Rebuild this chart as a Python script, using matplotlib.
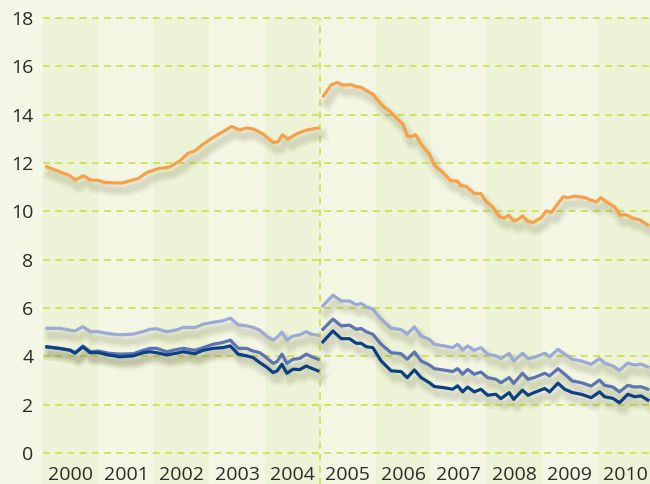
import matplotlib
matplotlib.use("Agg")
import matplotlib.pyplot as plt
import matplotlib.patheffects as pe

# years shown on the x axis
years = list(range(2000, 2011))

# blue series, before the 2005 break (x in years)
blue_x_pre = [2000.07, 2000.31, 2000.49, 2000.58, 2000.72, 2000.85, 2001.00, 2001.18, 2001.39,
              2001.63, 2001.81, 2001.93, 2002.05, 2002.23, 2002.41, 2002.53, 2002.74, 2002.89,
              2003.07, 2003.24, 2003.38, 2003.52, 2003.67, 2003.79, 2003.91, 2004.03, 2004.15,
              2004.22, 2004.31, 2004.40, 2004.51, 2004.63, 2004.75, 2004.84, 2004.96]
light_pre = [5.16, 5.16, 5.08, 5.05, 5.23, 5.02, 5.02, 4.94, 4.89, 4.92, 5.03, 5.12, 5.14, 5.02,
             5.09, 5.20, 5.19, 5.33, 5.41, 5.47, 5.58, 5.30, 5.26, 5.20, 5.08, 4.84, 4.67, 4.78,
             5.00, 4.68, 4.84, 4.89, 5.02, 4.92, 4.87]
mid_pre = [4.40, 4.33, 4.26, 4.15, 4.43, 4.19, 4.22, 4.13, 4.09, 4.11, 4.25, 4.33, 4.33, 4.19,
           4.28, 4.33, 4.25, 4.36, 4.50, 4.57, 4.67, 4.33, 4.33, 4.22, 4.15, 3.95, 3.71, 3.78,
           4.09, 3.71, 3.88, 3.91, 4.09, 3.99, 3.88]
dark_pre = [4.39, 4.32, 4.25, 4.13, 4.39, 4.15, 4.15, 4.06, 3.98, 4.02, 4.15, 4.19, 4.15, 4.06,
            4.13, 4.19, 4.11, 4.25, 4.33, 4.36, 4.43, 4.09, 4.02, 3.95, 3.74, 3.56, 3.33, 3.39,
            3.67, 3.30, 3.47, 3.45, 3.60, 3.51, 3.40]

# blue series, after the break
blue_x_post = [2005.05, 2005.23, 2005.38, 2005.53, 2005.65, 2005.74, 2005.83, 2005.95, 2006.10,
               2006.28, 2006.46, 2006.57, 2006.70, 2006.82, 2006.97, 2007.06, 2007.24, 2007.39,
               2007.48, 2007.57, 2007.66, 2007.78, 2007.90, 2008.02, 2008.17, 2008.26, 2008.41,
               2008.49, 2008.65, 2008.75, 2008.86, 2009.05, 2009.14, 2009.29, 2009.41, 2009.55,
               2009.71, 2009.89, 2010.04, 2010.13, 2010.28, 2010.40, 2010.55, 2010.67, 2010.79,
               2010.91]
light_post = [6.09, 6.53, 6.29, 6.29, 6.13, 6.19, 6.05, 5.95, 5.54, 5.16, 5.11, 4.92, 5.22, 4.84,
              4.70, 4.50, 4.43, 4.36, 4.50, 4.26, 4.43, 4.25, 4.36, 4.09, 4.02, 3.91, 4.12, 3.81,
              4.13, 3.91, 3.95, 4.13, 3.98, 4.29, 4.09, 3.88, 3.81, 3.67, 3.91, 3.72, 3.60, 3.42,
              3.72, 3.64, 3.68, 3.56]
mid_post = [5.12, 5.54, 5.26, 5.29, 5.12, 5.15, 5.02, 4.91, 4.50, 4.15, 4.11, 3.88, 4.18, 3.81,
            3.64, 3.49, 3.43, 3.37, 3.49, 3.26, 3.46, 3.26, 3.35, 3.12, 3.05, 2.91, 3.12, 2.88,
            3.30, 3.05, 3.12, 3.30, 3.19, 3.49, 3.26, 2.98, 2.91, 2.77, 3.02, 2.80, 2.73, 2.53,
            2.80, 2.73, 2.74, 2.64]
dark_post = [4.60, 5.05, 4.73, 4.73, 4.54, 4.54, 4.40, 4.36, 3.81, 3.40, 3.37, 3.12, 3.44, 3.12,
             2.91, 2.75, 2.70, 2.64, 2.78, 2.53, 2.73, 2.53, 2.64, 2.39, 2.43, 2.25, 2.50, 2.22,
             2.60, 2.39, 2.50, 2.67, 2.53, 2.89, 2.64, 2.50, 2.43, 2.29, 2.53, 2.33, 2.26, 2.08,
             2.43, 2.33, 2.36, 2.19]

# orange series
orange_x_pre = [2000.07, 2000.49, 2000.58, 2000.73, 2000.85, 2001.00, 2001.12, 2001.42, 2001.72,
                2001.87, 2002.05, 2002.29, 2002.47, 2002.62, 2002.74, 2002.89, 2003.07, 2003.25,
                2003.40, 2003.55, 2003.67, 2003.79, 2003.97, 2004.15, 2004.24, 2004.32, 2004.42,
                2004.57, 2004.75, 2004.96]
orange_pre = [11.84, 11.47, 11.30, 11.47, 11.30, 11.28, 11.19, 11.17, 11.36, 11.60, 11.75, 11.84,
              12.09, 12.41, 12.50, 12.78, 13.06, 13.30, 13.51, 13.37, 13.45, 13.41, 13.20, 12.85,
              12.88, 13.17, 12.99, 13.20, 13.36, 13.45]
orange_x_post = [2005.06, 2005.20, 2005.31, 2005.41, 2005.56, 2005.65, 2005.74, 2005.86, 2005.95,
                 2006.07, 2006.16, 2006.25, 2006.37, 2006.49, 2006.57, 2006.64, 2006.72, 2006.82,
                 2006.97, 2007.06, 2007.18, 2007.36, 2007.47, 2007.54, 2007.63, 2007.78, 2007.90,
                 2007.99, 2008.11, 2008.23, 2008.32, 2008.40, 2008.49, 2008.56, 2008.65, 2008.75,
                 2008.84, 2008.99, 2009.08, 2009.17, 2009.26, 2009.38, 2009.47, 2009.59, 2009.77,
                 2009.89, 2009.98, 2010.07, 2010.16, 2010.31, 2010.41, 2010.52, 2010.64, 2010.76,
                 2010.91]
orange_post = [14.78, 15.24, 15.33, 15.22, 15.24, 15.16, 15.13, 14.96, 14.85, 14.51, 14.30, 14.16,
               13.88, 13.61, 13.13, 13.09, 13.17, 12.78, 12.37, 11.91, 11.68, 11.26, 11.26, 11.06,
               11.04, 10.74, 10.74, 10.41, 10.19, 9.79, 9.72, 9.84, 9.61, 9.65, 9.81, 9.58, 9.54,
               9.74, 10.02, 9.95, 10.23, 10.60, 10.57, 10.63, 10.57, 10.46, 10.39, 10.57, 10.39,
               10.19, 9.84, 9.86, 9.72, 9.65, 9.43]

break_year = 2005
yticks = list(range(0, 20, 2))

plt.rcParams['font.family'] = ['Open Sans', 'DejaVu Sans']

fig = plt.figure(figsize=(6.5, 4.84), dpi=100, facecolor='#F4F6E6')
ax = fig.add_axes([43 / 650, 31 / 484, 1 - 43 / 650, 435 / 484])
ax.set_facecolor('#F3F6E3')
ax.set_xlim(2000, 2010.95)
ax.set_ylim(0, 18)

# alternating year bands, running down behind the year labels
for y in years:
    col = '#EDF3D6' if y % 2 == 0 else '#F3F6E3'
    ax.axvspan(y, y + 1, ymin=-0.075, ymax=1, color=col, lw=0, clip_on=False, zorder=0)

for v in yticks:
    ax.axhline(v, color='#C8DE3C', lw=1.1, dashes=(4.5, 3.5), zorder=1, clip_on=False)
ax.axvline(break_year, ymin=-0.075, ymax=1, color='#C8DE3C', lw=1.1, dashes=(4.5, 3.5),
           zorder=1, clip_on=False)

# soft drop shadow under every line
shadow = [pe.SimpleLineShadow(offset=(2.5, -5), shadow_color='#7a7a50', alpha=0.06, linewidth=10),
          pe.SimpleLineShadow(offset=(2.5, -5), shadow_color='#7a7a50', alpha=0.08, linewidth=7),
          pe.SimpleLineShadow(offset=(2.5, -5), shadow_color='#7a7a50', alpha=0.10, linewidth=4),
          pe.Normal()]

series = [
    (orange_x_pre, orange_pre, orange_x_post, orange_post, '#F8A048'),
    (blue_x_pre, light_pre, blue_x_post, light_post, '#9BA9D7'),
    (blue_x_pre, mid_pre, blue_x_post, mid_post, '#5B74B4'),
    (blue_x_pre, dark_pre, blue_x_post, dark_post, '#0B3F86'),
]
for xa, ya, xb, yb, col in series:
    for xs, ys in ((xa, ya), (xb, yb)):
        ax.plot(xs, ys, color=col, lw=2.3, solid_joinstyle='round', zorder=3,
                path_effects=shadow)

ax.set_yticks(yticks)
ax.set_yticklabels([str(v) for v in yticks])
ax.set_xticks([y + 0.5 for y in years])
ax.set_xticklabels([str(y) for y in years])
ax.tick_params(axis='both', length=0, labelsize=14, labelcolor='#2b2b2b')
ax.tick_params(axis='y', pad=7)
ax.tick_params(axis='x', pad=9)
for s in ax.spines.values():
    s.set_visible(False)

fig.savefig('out.png', dpi=100, facecolor=fig.get_facecolor())
